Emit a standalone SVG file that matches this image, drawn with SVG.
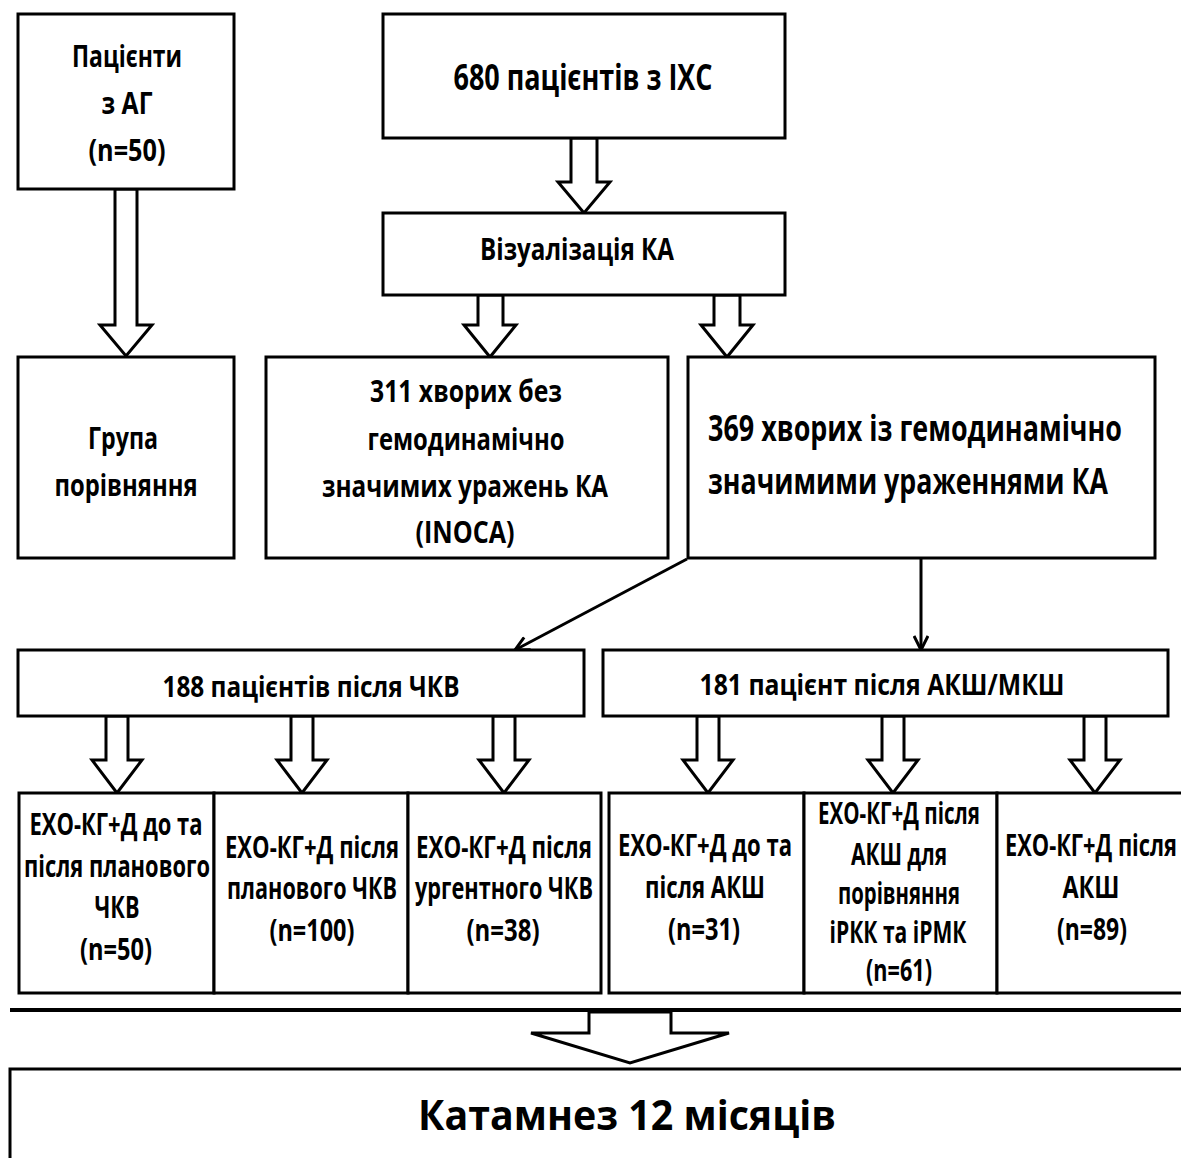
<svg xmlns="http://www.w3.org/2000/svg" width="1181" height="1158" viewBox="0 0 1181 1158">
<defs>
<style>
.box{fill:#fff;stroke:#000;stroke-width:3}
.blk{fill:#fff;stroke:#000;stroke-width:3;stroke-linejoin:miter}
.ln{fill:none;stroke:#000;stroke-width:3}
text{font-family:"Open Sans","Liberation Sans",sans-serif;font-weight:700;fill:#000;text-anchor:middle}
.t28{font-size:30px}
.t29{font-size:31px}
.t27{font-size:29px}
.t33{font-size:35px}
.t38{font-size:41px}
.left{text-anchor:start}
</style>
<marker id="vh" viewBox="0 0 16 16" refX="15" refY="8" markerWidth="16" markerHeight="16" markerUnits="userSpaceOnUse" orient="auto">
<path d="M1,1 L15,8 L1,15" fill="none" stroke="#000" stroke-width="3"/>
</marker>
</defs>
<rect width="1181" height="1158" fill="#fff"/>

<g id="connectors">
<polygon class="blk" points="115,189 137,189 137,325 152,325 126,356 100,325 115,325"/>
<polygon class="blk" points="571,138 597,138 597,182 610,182 584,213 558,182 571,182"/>
<polygon class="blk" points="478,295 503,295 503,325 516,325 490,357 464,325 478,325"/>
<polygon class="blk" points="714,295 740,295 740,325 753,325 727,357 701,325 714,325"/>
<line class="ln" x1="687" y1="559" x2="515" y2="650" marker-end="url(#vh)"/>
<line class="ln" x1="921" y1="559" x2="921" y2="650" marker-end="url(#vh)"/>
<polygon class="blk" points="106,716 128,716 128,760 142,760 117,793 92,760 106,760"/>
<polygon class="blk" points="291,716 313,716 313,760 327,760 302,793 277,760 291,760"/>
<polygon class="blk" points="493,716 515,716 515,760 529,760 504,793 479,760 493,760"/>
<polygon class="blk" points="697,716 719,716 719,760 733,760 708,793 683,760 697,760"/>
<polygon class="blk" points="882,716 904,716 904,760 918,760 893,793 868,760 882,760"/>
<polygon class="blk" points="1084,716 1106,716 1106,760 1120,760 1095,793 1070,760 1084,760"/>
<line x1="10" y1="1010" x2="1181" y2="1010" stroke="#000" stroke-width="4"/>
<polygon class="blk" points="589,1012 671,1012 671,1033 729,1033 630,1063 531,1033 589,1033"/>
</g>

<g id="n-ag">
<rect class="box" x="18" y="14" width="216" height="175"/>
<text class="t29" x="127" y="67" textLength="110" lengthAdjust="spacingAndGlyphs">Пацієнти</text>
<text class="t29" x="127" y="114" textLength="51" lengthAdjust="spacingAndGlyphs">з АГ</text>
<text class="t29" x="127" y="161" textLength="77" lengthAdjust="spacingAndGlyphs">(n=50)</text>
</g>

<g id="n-680">
<rect class="box" x="383" y="14" width="402" height="124"/>
<text class="t33" x="583" y="90" textLength="259" lengthAdjust="spacingAndGlyphs">680 пацієнтів з ІХС</text>
</g>

<g id="n-viz">
<rect class="box" x="383" y="213" width="402" height="82"/>
<text class="t28" x="577" y="260" textLength="194" lengthAdjust="spacingAndGlyphs">Візуалізація КА</text>
</g>

<g id="n-grupa">
<rect class="box" x="18" y="357" width="216" height="201"/>
<text class="t29" x="123" y="449" textLength="70" lengthAdjust="spacingAndGlyphs">Група</text>
<text class="t29" x="126" y="496" textLength="143" lengthAdjust="spacingAndGlyphs">порівняння</text>
</g>

<g id="n-311">
<rect class="box" x="266" y="357" width="402" height="201"/>
<text class="t29" x="466" y="402" textLength="192" lengthAdjust="spacingAndGlyphs">311 хворих без</text>
<text class="t29" x="466" y="450" textLength="197" lengthAdjust="spacingAndGlyphs">гемодинамічно</text>
<text class="t29" x="465" y="497" textLength="286" lengthAdjust="spacingAndGlyphs">значимих уражень КА</text>
<text class="t29" x="465" y="543" textLength="99" lengthAdjust="spacingAndGlyphs">(INOCA)</text>
</g>

<g id="n-369">
<rect class="box" x="688" y="357" width="467" height="201"/>
<text class="t33 left" x="708" y="441" textLength="414" lengthAdjust="spacingAndGlyphs">369 хворих із гемодинамічно</text>
<text class="t33 left" x="708" y="494" textLength="400" lengthAdjust="spacingAndGlyphs">значимими  ураженнями КА</text>
</g>

<g id="n-188">
<rect class="box" x="18" y="650" width="566" height="66"/>
<text class="t27" x="311" y="697" textLength="297" lengthAdjust="spacingAndGlyphs">188 пацієнтів  після ЧКВ</text>
</g>

<g id="n-181">
<rect class="box" x="603" y="650" width="565" height="66"/>
<text class="t27" x="882" y="695" textLength="365" lengthAdjust="spacingAndGlyphs">181 пацієнт після АКШ/МКШ</text>
</g>

<g id="n-b1">
<rect class="box" x="19" y="793" width="195" height="200"/>
<text class="t28" x="116" y="835" textLength="173" lengthAdjust="spacingAndGlyphs">ЕХО-КГ+Д до та</text>
<text class="t28" x="117" y="877" textLength="186" lengthAdjust="spacingAndGlyphs">після планового</text>
<text class="t28" x="117" y="918" textLength="45" lengthAdjust="spacingAndGlyphs">ЧКВ</text>
<text class="t28" x="116" y="960" textLength="72" lengthAdjust="spacingAndGlyphs">(n=50)</text>
</g>

<g id="n-b2">
<rect class="box" x="214" y="793" width="194" height="200"/>
<text class="t28" x="312" y="858" textLength="174" lengthAdjust="spacingAndGlyphs">ЕХО-КГ+Д після</text>
<text class="t28" x="312" y="899" textLength="170" lengthAdjust="spacingAndGlyphs">планового ЧКВ</text>
<text class="t28" x="312" y="941" textLength="85" lengthAdjust="spacingAndGlyphs">(n=100)</text>
</g>

<g id="n-b3">
<rect class="box" x="408" y="793" width="193" height="200"/>
<text class="t28" x="504" y="858" textLength="176" lengthAdjust="spacingAndGlyphs">ЕХО-КГ+Д після</text>
<text class="t28" x="504" y="899" textLength="178" lengthAdjust="spacingAndGlyphs">ургентного ЧКВ</text>
<text class="t28" x="503" y="941" textLength="73" lengthAdjust="spacingAndGlyphs">(n=38)</text>
</g>

<g id="n-b4">
<rect class="box" x="609" y="793" width="195" height="200"/>
<text class="t28" x="705" y="856" textLength="174" lengthAdjust="spacingAndGlyphs">ЕХО-КГ+Д до та</text>
<text class="t28" x="705" y="898" textLength="120" lengthAdjust="spacingAndGlyphs">після АКШ</text>
<text class="t28" x="704" y="940" textLength="72" lengthAdjust="spacingAndGlyphs">(n=31)</text>
</g>

<g id="n-b5">
<rect class="box" x="804" y="793" width="193" height="200"/>
<text class="t28" x="899" y="824" textLength="162" lengthAdjust="spacingAndGlyphs">ЕХО-КГ+Д після</text>
<text class="t28" x="899" y="865" textLength="96" lengthAdjust="spacingAndGlyphs">АКШ для</text>
<text class="t28" x="899" y="904" textLength="122" lengthAdjust="spacingAndGlyphs">порівняння</text>
<text class="t28" x="898" y="943" textLength="137" lengthAdjust="spacingAndGlyphs">іРКК та іРМК</text>
<text class="t28" x="899" y="981" textLength="66" lengthAdjust="spacingAndGlyphs">(n=61)</text>
</g>

<g id="n-b6">
<rect class="box" x="997" y="793" width="200" height="200"/>
<text class="t28" x="1091" y="856" textLength="172" lengthAdjust="spacingAndGlyphs">ЕХО-КГ+Д після</text>
<text class="t28" x="1091" y="898" textLength="57" lengthAdjust="spacingAndGlyphs">АКШ</text>
<text class="t28" x="1092" y="940" textLength="70" lengthAdjust="spacingAndGlyphs">(n=89)</text>
</g>

<g id="n-katamnez">
<rect class="box" x="10" y="1069" width="1190" height="100"/>
<text class="t38" x="627" y="1130" textLength="418" lengthAdjust="spacingAndGlyphs">Катамнез 12 місяців</text>
</g>
</svg>
